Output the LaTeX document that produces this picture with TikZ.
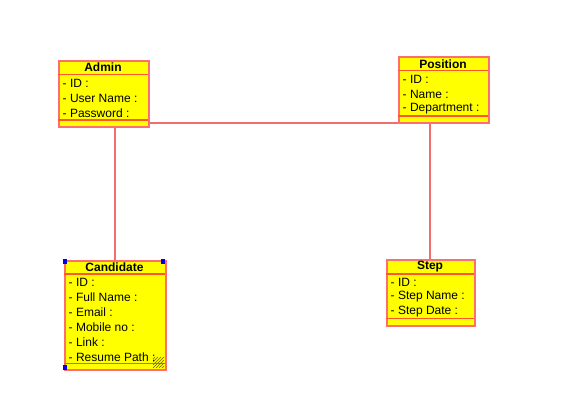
\documentclass[tikz,border=0pt]{standalone}
\usepackage{fontspec}
\setmainfont{Liberation Sans}
\definecolor{boxborder}{RGB}{255,110,110}
\definecolor{sepline}{RGB}{255,85,40}
\definecolor{boxfill}{RGB}{255,255,0}
\definecolor{conn}{RGB}{240,110,110}
\definecolor{handle}{RGB}{0,0,230}
\definecolor{grip}{RGB}{110,100,20}
\begin{document}
\begin{tikzpicture}[x=1pt,y=-1pt,
  classbox/.style={draw=boxborder,fill=boxfill,line width=1.6pt,inner sep=0,anchor=north west},
  sep/.style={draw=sepline,line width=1.6pt},
  title/.style={font=\fontsize{12}{13}\selectfont\bfseries,inner sep=0,anchor=center},
  attr/.style={font=\fontsize{12}{13}\selectfont,inner sep=0,anchor=west},
  connector/.style={draw=conn,line width=1.4pt},
  handlebox/.style={fill=handle,inner sep=0,minimum size=4.5pt}]
\useasboundingbox (0,0) rectangle (568,419);
% Admin
\node[classbox,minimum width=90pt,minimum height=66pt] (admin) at (58,60) {};
\draw[sep] (58,74.5) -- (148,74.5);
\draw[sep] (58,120) -- (148,120);
\node[title] (adminT) at (103,67.5) {Admin};
\node[attr] (admin1) at (62.5,83) {- ID :};
\node[attr] (admin2) at (62.5,98) {- User Name :};
\node[attr] (admin3) at (62.5,113) {- Password :};
% Position
\node[classbox,minimum width=90pt,minimum height=66pt] (position) at (398,56) {};
\draw[sep] (398,70.5) -- (488,70.5);
\draw[sep] (398,116) -- (488,116);
\node[title] (positionT) at (443,64) {Position};
\node[attr] (position1) at (402.5,79) {- ID :};
\node[attr] (position2) at (402.5,94) {- Name :};
\node[attr] (position3) at (402.5,109) {- Department :};
% Step
\node[classbox,minimum width=88pt,minimum height=66pt] (step) at (386,259) {};
\draw[sep] (386,274) -- (474,274);
\draw[sep] (386,318.5) -- (474,318.5);
\node[title] (stepT) at (430,267) {Step};
\node[attr] (step1) at (390.5,282) {- ID :};
\node[attr] (step2) at (390.5,297) {- Step Name :};
\node[attr] (step3) at (390.5,312) {- Step Date :};
% Candidate
\node[classbox,minimum width=101pt,minimum height=109pt] (cand) at (64,260) {};
\draw[sep] (64,274) -- (165,274);
\draw[sep] (64,363.5) -- (165,363.5);
\node[title] (candT) at (114.5,267.5) {Candidate};
\node[attr] (cand1) at (68.5,282) {- ID :};
\node[attr] (cand2) at (68.5,297) {- Full Name :};
\node[attr] (cand3) at (68.5,312) {- Email :};
\node[attr] (cand4) at (68.5,327) {- Mobile no :};
\node[attr] (cand5) at (68.5,342) {- Link :};
\node[attr] (cand6) at (68.5,357) {- Resume Path :};
% selection handles and resize grip
\node[handlebox] (h1) at (65,261.5) {};
\node[handlebox] (h2) at (163,261.5) {};
\node[handlebox] (h3) at (65,367.5) {};
\foreach \d in {0,3,6,9} {
  \draw[grip,line width=0.7pt] (164-\d,357) -- (153,368-\d);
}
\foreach \d in {3,6,9} {
  \draw[grip,line width=0.7pt] (164,357+\d) -- (153+\d,368);
}
% connectors
\coordinate (c1) at (148,123);
\coordinate (c2) at (398,123);
\draw[connector] (c1) -- (c2);
\draw[connector] (admin.south -| 115,0) -- (cand.north -| 115,0);
\draw[connector] (position.south -| 430,0) -- (step.north -| 430,0);
\end{tikzpicture}
\end{document}
